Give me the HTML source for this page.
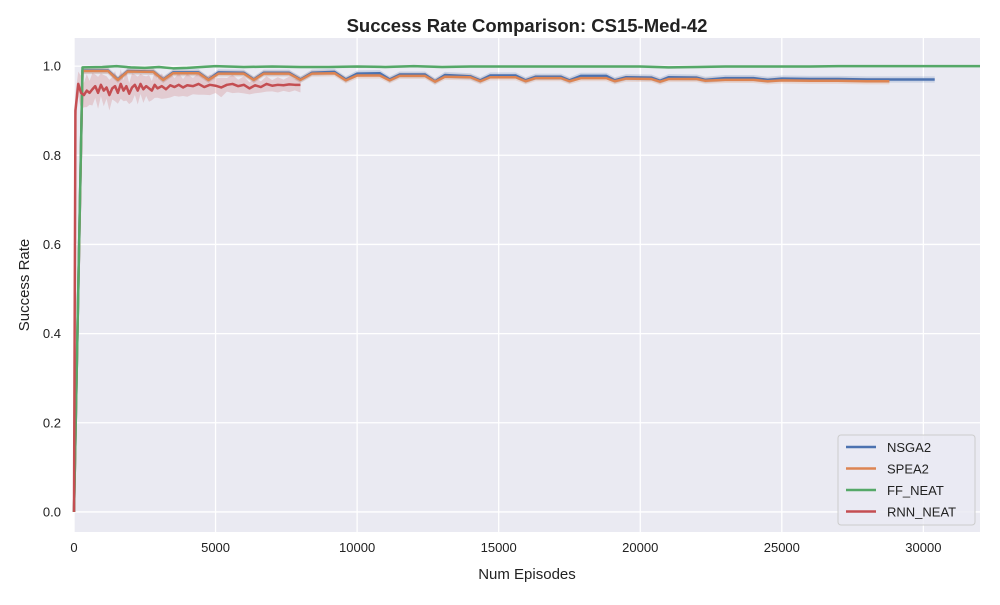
<!DOCTYPE html>
<html><head><meta charset="utf-8"><style>
body{margin:0;background:#fff;}
svg{font-family:"Liberation Sans","DejaVu Sans",sans-serif;}
</style></head><body>
<svg id="chart" width="1000" height="600">
<text x="527" y="32" text-anchor="middle" font-size="18.5" font-weight="bold" fill="#222">Success Rate Comparison: CS15-Med-42</text>
<rect x="74" y="38" width="906" height="494" fill="#eaeaf2"/>
<g id="grid"></g><g id="bands"></g><g id="lines"></g><g id="ticks"></g>
<text x="527" y="579" text-anchor="middle" font-size="15" fill="#222">Num Episodes</text>
<text x="29" y="285" text-anchor="middle" font-size="15" fill="#222" transform="rotate(-90 29 285)">Success Rate</text>
<g id="legend">
<rect x="838" y="435" width="137" height="90" rx="3" fill="#eaeaf2" fill-opacity="0.8" stroke="#ccc"/>
</g>
</svg>
<script>
const xTicks=[0,5000,10000,15000,20000,25000,30000];
const yTicks=[0,0.2,0.4,0.6,0.8,1.0];
const seriesNames=["NSGA2","SPEA2","FF_NEAT","RNN_NEAT"];
const colors=["#4c72b0","#dd8452","#55a868","#c44e52"];
const nsgaX=[0,300,1200,1550,1900,2800,3150,3500,4400,4750,5100,6000,6350,6700,7600,8000,8400,9200,9600,10000,10800,11150,11500,12400,12750,13100,14000,14350,14700,15600,15950,16300,17200,17500,17900,18800,19100,19500,20400,20700,21000,22000,22300,23000,24000,24500,25000,26000,27000,28000,29000,30400];
const nsgaY=[0,0.99,0.99,0.97,0.989,0.988,0.97,0.986,0.986,0.97,0.986,0.985,0.97,0.985,0.985,0.97,0.985,0.987,0.97,0.983,0.984,0.97,0.981,0.981,0.966,0.98,0.977,0.968,0.979,0.979,0.968,0.976,0.976,0.968,0.978,0.978,0.968,0.975,0.974,0.967,0.975,0.974,0.969,0.973,0.973,0.969,0.972,0.971,0.971,0.97,0.97,0.97];
const speaX=[0,300,1200,1550,1900,2800,3150,3500,4400,4750,5100,6000,6350,6700,7600,8000,8400,9200,9600,10000,10800,11150,11500,12400,12750,13100,14000,14350,14700,15600,15950,16300,17200,17500,17900,18800,19100,19500,20400,20700,21000,22000,22300,23000,24000,24500,25000,26000,27000,28000,28800];
const speaY=[0,0.989,0.989,0.969,0.988,0.987,0.969,0.984,0.984,0.969,0.983,0.983,0.969,0.983,0.983,0.969,0.983,0.984,0.968,0.979,0.979,0.968,0.978,0.978,0.965,0.976,0.975,0.966,0.975,0.975,0.966,0.973,0.973,0.966,0.973,0.973,0.966,0.972,0.971,0.965,0.971,0.971,0.967,0.969,0.969,0.966,0.968,0.967,0.967,0.966,0.966];
const ffX=[0,300,1000,1500,2000,2500,3000,3500,4000,5000,6000,7000,8000,9000,10000,11000,12000,13000,14000,15000,16000,17000,18000,19000,20000,21000,22000,23000,24000,25000,26000,27000,28000,29000,30000,32000];
const ffY=[0,0.997,0.998,1.0,0.997,0.996,0.998,0.995,0.996,1.0,0.998,0.999,0.998,0.998,0.999,0.998,1.0,0.998,0.999,0.999,0.999,0.999,0.999,0.999,0.999,0.997,0.998,0.999,0.999,0.999,0.999,1.0,1.0,1.0,1.0,1.0];
const rnnX=[0,50,150,250,350,450,550,650,750,850,950,1050,1150,1250,1350,1450,1550,1650,1750,1850,1950,2050,2150,2250,2350,2450,2550,2650,2750,2850,2950,3100,3250,3400,3550,3700,3850,4000,4200,4400,4600,4800,5000,5200,5400,5600,5800,6000,6200,6400,6600,6800,7000,7200,7400,7600,7800,8000];
const rnnY=[0,0.9,0.96,0.94,0.935,0.945,0.94,0.948,0.955,0.94,0.958,0.945,0.952,0.935,0.95,0.955,0.94,0.96,0.945,0.955,0.938,0.952,0.958,0.945,0.96,0.948,0.955,0.95,0.945,0.958,0.95,0.955,0.948,0.957,0.953,0.958,0.952,0.957,0.955,0.96,0.953,0.958,0.956,0.952,0.958,0.96,0.955,0.958,0.95,0.957,0.953,0.96,0.956,0.958,0.957,0.959,0.958,0.958];
const bandW=[0.007,0.007,0.003,0.035];

const NS="http://www.w3.org/2000/svg";
const L=74,R=980,T=38,B=532,xMax=32000,yMin=-0.045,yMax=1.063;
const sx=v=>L+(v/xMax)*(R-L);
const sy=v=>B-(v-yMin)/(yMax-yMin)*(B-T);
function mk(tag,attrs,parent){const e=document.createElementNS(NS,tag);for(const k in attrs)e.setAttribute(k,attrs[k]);parent.appendChild(e);return e;}
const grid=document.getElementById('grid'),ticks=document.getElementById('ticks');
xTicks.forEach(t=>{
 const l=mk('line',{x1:sx(t),x2:sx(t),y1:T,y2:B,stroke:'#fff','stroke-width':1.3},grid);
 
 
 const tx=mk('text',{x:sx(t),y:B+20,'text-anchor':'middle','font-size':13,fill:'#222'},ticks);
 tx.textContent=t;
 
 
});
yTicks.forEach(t=>{
 const l=mk('line',{x1:L,x2:R,y1:sy(t),y2:sy(t),stroke:'#fff','stroke-width':1.3},grid);
 
 
 const tx=mk('text',{x:L-13,y:sy(t)+4.5,'text-anchor':'end','font-size':13,fill:'#222'},ticks);
 tx.textContent=t.toFixed(1);
 
 
});
const data=[[nsgaX,nsgaY],[speaX,speaY],[ffX,ffY],[rnnX,rnnY]];
const bands=document.getElementById('bands'),lines=document.getElementById('lines');
data.forEach((d,i)=>{
 const [xs,ys]=d;
 let up=[],dn=[];
 xs.forEach((x,j)=>{const w=j==0?0:bandW[i]*(i==3?Math.max(0.45,1-x/12000)*(j%2?1.1:0.8):1);up.push(sx(x)+','+sy(Math.min(1,ys[j]+w)));dn.unshift(sx(x)+','+sy(ys[j]-w));});
 const b=mk('polygon',{points:up.concat(dn).join(' '),fill:colors[i],'fill-opacity':0.2},bands);
 
 
 const p=mk('polyline',{points:xs.map((x,j)=>sx(x)+','+sy(ys[j])).join(' '),fill:'none',stroke:colors[i],'stroke-width':2.5,'stroke-linejoin':'round'},lines);
 
 
});
const lg=document.getElementById('legend');
seriesNames.forEach((n,i)=>{
 const y=447+i*21.5;
 const l=mk('line',{x1:846,x2:876,y1:y,y2:y,stroke:colors[i],'stroke-width':2.5},lg);
 
 
 const t=mk('text',{x:887,y:y+5,'font-size':13,fill:'#222'},lg);
 t.textContent=n;
 
 
});
</script>
</body></html>
